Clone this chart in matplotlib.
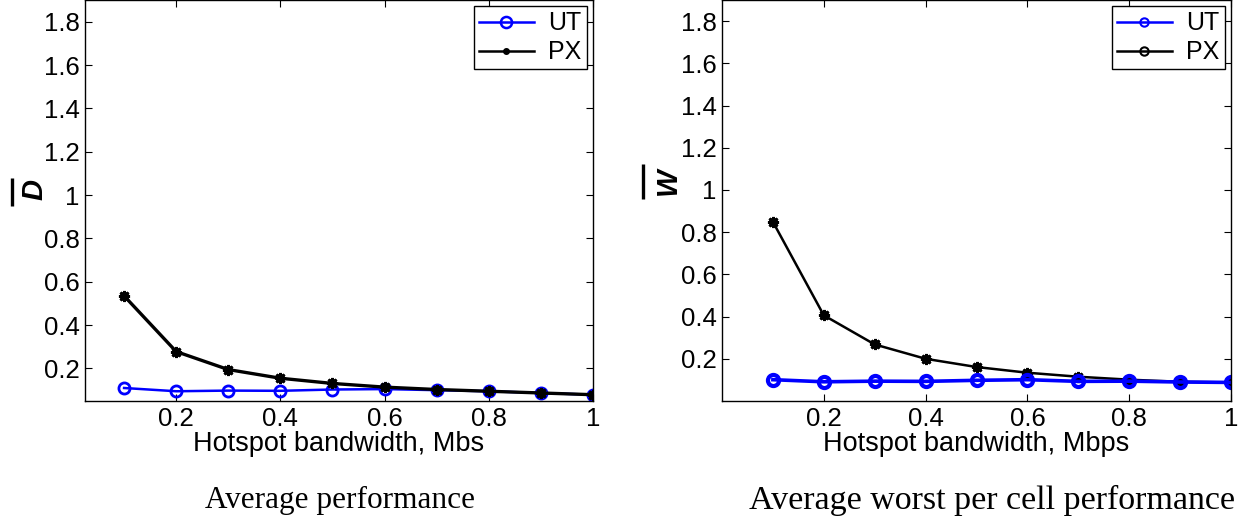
import matplotlib
matplotlib.use("Agg")
import matplotlib.pyplot as plt
from matplotlib.lines import Line2D

x = [0.1, 0.2, 0.3, 0.4, 0.5, 0.6, 0.7, 0.8, 0.9, 1.0]
d_ut = [0.110, 0.095, 0.098, 0.097, 0.103, 0.105, 0.100, 0.095, 0.087, 0.079]
d_px = [0.535, 0.278, 0.195, 0.155, 0.131, 0.114, 0.103, 0.095, 0.087, 0.079]
w_ut = [0.101, 0.091, 0.094, 0.093, 0.098, 0.101, 0.093, 0.094, 0.090, 0.088]
w_px = [0.849, 0.406, 0.268, 0.200, 0.161, 0.134, 0.115, 0.101, 0.091, 0.088]
yticks = [0.2, 0.4, 0.6, 0.8, 1.0, 1.2, 1.4, 1.6, 1.8]
ytick_labels = ["0.2", "0.4", "0.6", "0.8", "1", "1.2", "1.4", "1.6", "1.8"]
xticks = [0.2, 0.4, 0.6, 0.8, 1.0]
xtick_labels = ["0.2", "0.4", "0.6", "0.8", "1"]

plt.rcParams['font.family'] = ['Liberation Sans', 'DejaVu Sans']

W, H = 1250, 523
fig = plt.figure(figsize=(W / 100, H / 100), dpi=100)

def axrect(l, r, t, b):
    return [l / W, 1 - b / H, (r - l) / W, (b - t) / H]

def fx(px):
    return px / W

def fy(py):
    return 1 - py / H

ax1 = fig.add_axes(axrect(85, 593, 0, 401))
ax2 = fig.add_axes(axrect(722, 1231, 0, 401))

star = (8, 2, 0)
TFS = 18.5
LFS = 19.5

def style(ax, xlim, ylim):
    ax.set_xlim(*xlim)
    ax.set_ylim(*ylim)
    ax.set_xticks(xticks)
    ax.set_xticklabels(xtick_labels)
    ax.set_yticks(yticks)
    ax.set_yticklabels(ytick_labels)
    ax.tick_params(direction='in', length=5, width=0.8, labelsize=TFS,
                   top=True, right=True, pad=4)
    for s in ax.spines.values():
        s.set_linewidth(1.0)

def ylabel_bar(letter, lx, ly, bx, by0, by1):
    fig.text(fx(lx), fy(ly), letter, rotation=90, ha='center', va='center',
             fontsize=21, fontweight='bold', fontstyle='italic')
    fig.add_artist(Line2D([fx(bx), fx(bx)], [fy(by0), fy(by1)],
                          color='black', lw=2.4, solid_capstyle='butt'))

# Left panel
ax1.plot(x, d_ut, '-', color='blue', lw=1.8, marker='o', ms=8,
         mfc='none', mec='blue', mew=2)
ax1.plot(x, d_px, '-', color='black', lw=2.4, marker=star, ms=8,
         mec='black', mew=2)
style(ax1, (0.025, 1.0), (0.05, 1.9))
ax1.set_xlabel('Hotspot bandwidth, Mbs', fontsize=LFS, labelpad=0)
ylabel_bar('D', 34, 190, 12, 178, 206)
h1 = [Line2D([], [], color='blue', lw=1.8, marker='o', ms=8, mfc='none', mew=1.8),
      Line2D([], [], color='black', lw=1.8, marker='.', ms=8)]
leg = ax1.legend(h1, ['UT', 'PX'], loc='upper right', fontsize=18, fancybox=False,
                 framealpha=1, edgecolor='black', handlelength=2.2,
                 borderaxespad=0.25, borderpad=0.2, labelspacing=0.2, handletextpad=0.6)
leg.get_frame().set_linewidth(1.0)

# Right panel
ax2.plot(x, w_px, '-', color='black', lw=1.8, marker=star, ms=8,
         mec='black', mew=2)
ax2.plot(x, w_ut, '-', color='blue', lw=2.6, marker='o', ms=8,
         mfc='none', mec='blue', mew=3)
style(ax2, (0.0, 1.0), (0.0, 1.9))
ax2.set_xlabel('Hotspot bandwidth, Mbps', fontsize=LFS, labelpad=0)
ylabel_bar('W', 668, 181, 643, 164, 199)
h2 = [Line2D([], [], color='blue', lw=1.8, marker='o', ms=6, mfc='none', mew=1.5),
      Line2D([], [], color='black', lw=1.8, marker='o', ms=6, mfc='none', mew=1.5)]
leg2 = ax2.legend(h2, ['UT', 'PX'], loc='upper right', fontsize=18, fancybox=False,
                  framealpha=1, edgecolor='black', handlelength=2.2,
                  borderaxespad=0.25, borderpad=0.2, labelspacing=0.2, handletextpad=0.6)
leg2.get_frame().set_linewidth(1.0)

fig.text(fx(340), fy(500), 'Average performance', ha='center', va='center',
         fontsize=22.5, family='Liberation Serif')
fig.text(fx(992), fy(500), 'Average worst per cell performance', ha='center',
         va='center', fontsize=24.5, family='Liberation Serif')

fig.savefig('out.png', dpi=100)
